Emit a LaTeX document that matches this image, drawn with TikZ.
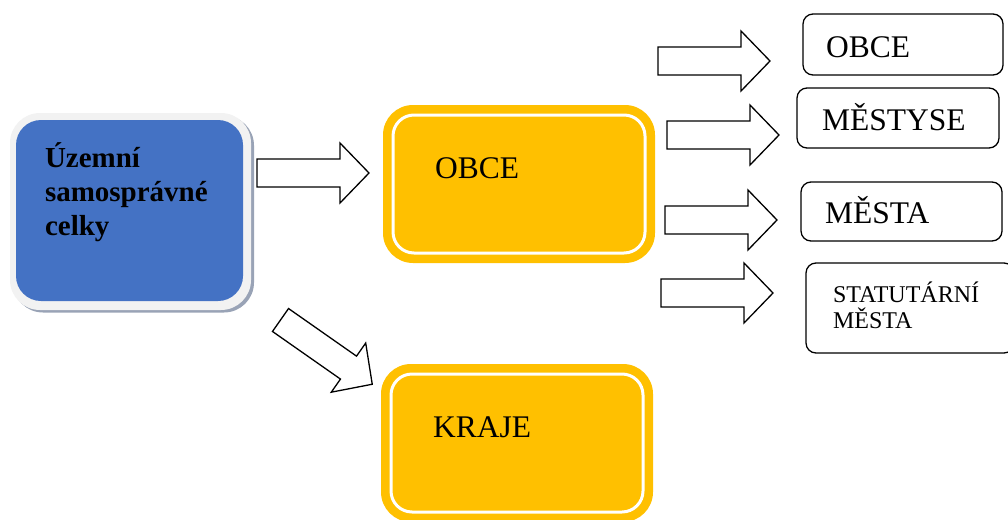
\documentclass[tikz,border=0pt]{standalone}
\usepackage{fontspec}
\setmainfont{Liberation Serif}
\usetikzlibrary{calc}
\definecolor{ora}{HTML}{FFC000}
\definecolor{bluefill}{HTML}{4472C4}
\definecolor{framegray}{HTML}{F2F2F2}
\definecolor{shadowgray}{HTML}{99A3B6}
\newcommand\fsbig{\fontsize{31.5}{36}\selectfont}
\newcommand\fssmall{\fontsize{24}{26}\selectfont}
\begin{document}
\begin{tikzpicture}[x=1pt,y=-1pt,
  every node/.style={inner sep=0pt,outer sep=0pt},
  arrowline/.style={draw=black,line width=1.3pt,fill=white,line join=miter},
  barrow/.pic={\path[arrowline] (0,-14) -- (83,-14) -- (83,-30) -- (112,0) -- (83,30) -- (83,14) -- (0,14) -- cycle;},
  orabox/.style={fill=ora,rounded corners=30pt,minimum width=272pt,minimum height=158pt},
  whiteline/.style={draw=white,line width=3pt,rounded corners=21pt},
  rbox/.style={draw=black,line width=1.3pt,rounded corners=10pt,fill=white},
  lbl/.style={anchor=base west,font=\fsbig}]
\useasboundingbox (0,0) rectangle (1008,519);
% blue box
\node[fill=shadowgray,rounded corners=30pt,minimum width=241pt,minimum height=197pt] (blueshadow) at (133.5,214) {};
\node[fill=framegray,rounded corners=30pt,minimum width=241pt,minimum height=197pt] (blueframe) at (130.5,211.5) {};
\node[fill=bluefill,rounded corners=25pt,minimum width=227pt,minimum height=181pt] (blue) at (129.5,210.5) {};
\node[anchor=base west] (bluetext) at (45,167) {\parbox[t]{200pt}{\raggedright\bfseries\fontsize{29}{34}\selectfont Územní\\samosprávné\\celky}};
% orange boxes
\node[orabox] (obce) at (519,184) {};
\draw[whiteline] ($(obce.north west)+(10,10)$) rectangle ($(obce.south east)+(-10,-10)$);
\node[lbl] (obcetext) at (435,178) {OBCE};
\node[orabox] (kraje) at (517,443) {};
\draw[whiteline] ($(kraje.north west)+(10,10)$) rectangle ($(kraje.south east)+(-10,-10)$);
\node[lbl] (krajetext) at (433,437) {KRAJE};
% right boxes
\node[rbox,minimum width=200pt,minimum height=61pt] (r1) at (903,44.5) {};
\node[lbl] (r1text) at (826,57) {OBCE};
\node[rbox,minimum width=202pt,minimum height=60pt] (r2) at (898,118) {};
\node[lbl] (r2text) at (822,130) {MĚSTYSE};
\node[rbox,minimum width=201pt,minimum height=59pt] (r3) at (901.5,211.5) {};
\node[lbl] (r3text) at (825,223) {MĚSTA};
\node[rbox,minimum width=208pt,minimum height=90pt] (r4) at (910,308) {};
\node[anchor=base west] (r4text) at (833,302) {\parbox[t]{170pt}{\raggedright\fssmall STATUTÁRNÍ\\MĚSTA}};
% block arrows
\pic at (257,173) {barrow};
\pic[rotate=-35] at (280.5,320) {barrow};
\pic at (658,61) {barrow};
\pic at (667,135) {barrow};
\pic at (665,220) {barrow};
\pic at (661,293) {barrow};
\end{tikzpicture}
\end{document}
